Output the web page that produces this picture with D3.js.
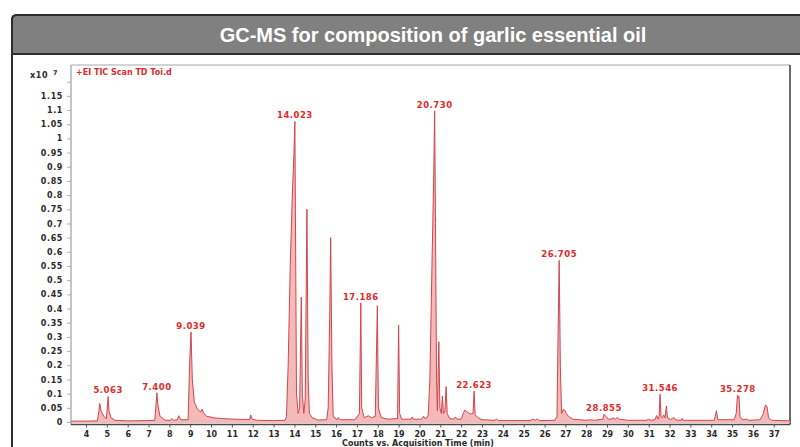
<!DOCTYPE html>
<html><head><meta charset="utf-8">
<script src="https://cdn.jsdelivr.net/npm/d3@7"></script>
<style>
html,body{margin:0;padding:0;background:#fff;}
svg{display:block;}
</style></head>
<body>
<svg id="chart" width="800" height="447"></svg>
<script>
const title = "GC-MS for composition of garlic essential oil";
const legendText = "+EI TIC Scan TD Toi.d";
const xAxisTitle = "Counts vs. Acquisition Time (min)";
const xTicks = [4,5,6,7,8,9,10,11,12,13,14,15,16,17,18,19,20,21,22,23,24,25,26,27,28,29,30,31,32,33,34,35,36,37];
const yTicks = [0,0.05,0.1,0.15,0.2,0.25,0.3,0.35,0.4,0.45,0.5,0.55,0.6,0.65,0.7,0.75,0.8,0.85,0.9,0.95,1,1.05,1.1,1.15,1.2];
const yUnlabeled = [1.2];

// chromatogram trace: retention time (min), counts (x10^7)
const traceTime = [3.28,4.0,4.55,4.62,4.66,4.72,4.85,4.98,5.03,5.063,5.1,5.2,5.4,6.0,6.9,7.3,7.36,7.4,7.45,7.55,7.8,8.05,8.12,8.2,8.38,8.45,8.55,8.9,8.97,9.039,9.1,9.2,9.35,9.5,9.57,9.65,9.8,10.2,10.8,11.5,11.85,11.9,11.97,12.2,13.0,13.55,13.62,13.7,13.8,13.9,13.98,14.023,14.06,14.1,14.18,14.25,14.33,14.38,14.45,14.52,14.6,14.66,14.72,14.85,15.0,15.1,15.55,15.62,15.7,15.74,15.8,15.86,16.05,16.1,16.2,16.9,17.12,17.186,17.23,17.35,17.55,17.7,17.88,17.98,18.03,18.15,18.3,18.5,18.95,19.0,19.05,19.15,19.6,19.65,19.72,20.1,20.2,20.27,20.35,20.42,20.5,20.6,20.68,20.73,20.77,20.82,20.86,20.93,20.98,21.05,21.1,21.15,21.22,21.28,21.33,21.45,21.65,21.72,21.8,22.0,22.1,22.18,22.3,22.45,22.57,22.623,22.67,22.8,23.0,23.6,23.7,23.8,25.3,25.45,25.55,25.65,25.75,26.5,26.6,26.65,26.705,26.76,26.82,26.9,26.97,27.05,27.15,27.35,28.0,28.2,28.4,28.8,28.855,28.95,29.1,29.3,29.4,29.5,29.6,30.0,30.9,31.0,31.1,31.3,31.38,31.45,31.5,31.546,31.59,31.65,31.72,31.78,31.85,31.9,32.05,32.2,32.3,32.55,32.6,32.65,34.15,34.25,34.32,35.1,35.2,35.26,35.3,35.33,35.38,35.5,35.7,35.8,36.35,36.5,36.6,36.68,36.75,36.9,37.78];
const traceCounts = [0.003,0.003,0.004,0.04,0.065,0.04,0.02,0.012,0.06,0.09,0.04,0.015,0.006,0.004,0.005,0.006,0.06,0.103,0.06,0.02,0.006,0.006,0.012,0.006,0.008,0.022,0.008,0.008,0.2,0.318,0.15,0.07,0.045,0.035,0.045,0.03,0.02,0.014,0.011,0.009,0.009,0.025,0.01,0.006,0.005,0.006,0.02,0.2,0.55,0.8,0.95,1.06,0.6,0.1,0.03,0.05,0.44,0.1,0.03,0.08,0.75,0.15,0.03,0.015,0.012,0.007,0.008,0.05,0.4,0.65,0.2,0.02,0.008,0.016,0.008,0.008,0.03,0.42,0.05,0.015,0.022,0.015,0.02,0.41,0.05,0.018,0.013,0.01,0.012,0.342,0.03,0.01,0.01,0.018,0.01,0.01,0.02,0.012,0.015,0.025,0.15,0.55,0.85,1.097,0.7,0.15,0.04,0.283,0.05,0.03,0.092,0.03,0.04,0.125,0.03,0.012,0.01,0.018,0.01,0.01,0.03,0.042,0.035,0.028,0.03,0.109,0.025,0.015,0.008,0.006,0.01,0.005,0.005,0.01,0.006,0.011,0.005,0.006,0.02,0.3,0.57,0.2,0.03,0.045,0.042,0.03,0.02,0.01,0.006,0.008,0.006,0.01,0.027,0.02,0.008,0.014,0.01,0.016,0.01,0.006,0.006,0.01,0.006,0.008,0.023,0.01,0.02,0.098,0.02,0.015,0.025,0.015,0.056,0.015,0.008,0.016,0.007,0.006,0.013,0.006,0.006,0.04,0.008,0.008,0.03,0.095,0.085,0.09,0.02,0.008,0.01,0.006,0.008,0.03,0.06,0.055,0.015,0.006,0.004];

// labelled peaks
const peakLabels = ["5.063","7.400","9.039","14.023","17.186","20.730","22.623","26.705","28.855","31.546","35.278"];
const peakTimes  = [5.063,7.400,9.039,14.023,17.186,20.730,22.623,26.705,28.855,31.546,35.278];
const peakHeights= [0.09,0.103,0.318,1.06,0.42,1.097,0.109,0.57,0.027,0.098,0.095];

const svg = d3.select("#chart");
const W = 800, H = 447;
const plot = {left:71, right:790, top:65, bottom:422, axisY:424.5};

// frame / header
svg.append("path")
  .attr("d", `M12,${H+2} L12,20 Q12,15 17,15 L${W+5},15 L${W+5},54 L12,54`)
  .attr("fill","none").attr("stroke","#2e2e2e").attr("stroke-width",2);
svg.append("path")
  .attr("d", `M12,54 L12,20 Q12,15 17,15 L${W+5},15 L${W+5},54 Z`)
  .attr("fill","#808080").attr("stroke","#2e2e2e").attr("stroke-width",2);
svg.append("text").attr("x",433).attr("y",42)
  .attr("text-anchor","middle").attr("fill","#fff")
  .attr("font-family","'Liberation Sans', Arial, sans-serif")
  .attr("font-weight","bold").attr("font-size",20).text(title);

const x = d3.scaleLinear().domain([3.28, 37.78]).range([plot.left, plot.right]);
const y = d3.scaleLinear().domain([0, 1.2588]).range([plot.bottom, plot.top]);

const tickFont = "'DejaVu Sans', Verdana, sans-serif";

// plot box
svg.append("line").attr("x1",plot.left).attr("x2",plot.right).attr("y1",plot.top).attr("y2",plot.top)
  .attr("stroke","#a8a8a8").attr("stroke-width",1);
svg.append("line").attr("x1",plot.right).attr("x2",plot.right).attr("y1",plot.top).attr("y2",plot.axisY)
  .attr("stroke","#3a3a3a").attr("stroke-width",1.5);

// data
const data = traceTime.map((t,i)=>({t, v:traceCounts[i]}));
const area = d3.area().x(d=>x(d.t)).y0(y(0)+1).y1(d=>y(d.v));
const line = d3.line().x(d=>x(d.t)).y(d=>y(d.v));
svg.append("path").datum(data).attr("d",area).attr("fill","#f3b3b3").attr("opacity",0.9);
svg.append("path").datum(data).attr("d",line).attr("fill","none")
  .attr("stroke","#d2454b").attr("stroke-width",1).attr("stroke-linejoin","round");

// y axis
const yAxis = d3.axisLeft(y).tickValues(yTicks).tickSize(4).tickPadding(4)
  .tickFormat(d => yUnlabeled.includes(d) ? "" : String(+d.toFixed(2)));
const gy = svg.append("g").attr("transform",`translate(${plot.left},0)`).call(yAxis);
gy.select(".domain").attr("stroke","#8a8a8a").attr("d",`M0,${plot.top}V${plot.axisY}`);
gy.selectAll(".tick line").attr("stroke","#b0b0b0");
gy.selectAll(".tick text").attr("font-family",tickFont).attr("font-weight","bold")
  .attr("font-size",8).attr("letter-spacing",0.6).attr("fill","#2a2a2a");

// x axis
const xAxis = d3.axisBottom(x).tickValues(xTicks).tickSize(3).tickPadding(4).tickFormat(d3.format("d"));
const gx = svg.append("g").attr("transform",`translate(0,${plot.axisY})`).call(xAxis);
gx.select(".domain").attr("stroke","#4a4a4a").attr("stroke-width",1.5).attr("d",`M${plot.left},0H${plot.right}`);
gx.selectAll(".tick line").attr("stroke","#555");
gx.selectAll(".tick text").attr("font-family",tickFont).attr("font-weight","bold")
  .attr("font-size",8).attr("fill","#2a2a2a");

// x10^7
const mult = svg.append("text").attr("x",30).attr("y",78)
  .attr("font-family",tickFont).attr("font-weight","bold").attr("font-size",8).attr("fill","#2a2a2a")
  .attr("letter-spacing",0.6);
mult.append("tspan").text("x10");
mult.append("tspan").attr("dx",5).attr("dy",-3).attr("font-size",6.5).text("7");

// legend
svg.append("text").attr("x",76).attr("y",75)
  .attr("font-family",tickFont).attr("font-weight","bold").attr("font-size",8)
  .attr("fill","#e02a2a").text(legendText);

// axis title
svg.append("text").attr("x",418).attr("y",446)
  .attr("text-anchor","middle").attr("font-family",tickFont).attr("font-weight","bold")
  .attr("font-size",8).attr("fill","#2a2a2a").text(xAxisTitle);

// peak labels
svg.append("g").selectAll("text").data(peakLabels).join("text")
  .attr("x",(d,i)=>x(peakTimes[i]))
  .attr("y",(d,i)=>y(peakHeights[i]) - 3)
  .attr("text-anchor","middle")
  .attr("font-family",tickFont).attr("font-weight","bold").attr("font-size",8.5)
  .attr("letter-spacing",0.5)
  .attr("fill","#e02a2a").text(d=>d);
</script>
</body></html>
